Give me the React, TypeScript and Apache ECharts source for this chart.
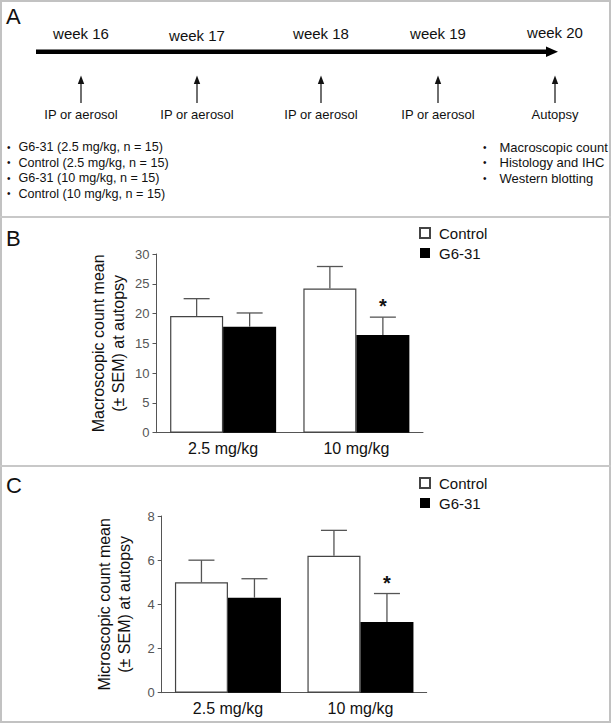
import React, { useEffect, useRef } from "react";
import * as echarts from "echarts";

const FONT = "'Liberation Sans', Arial, Helvetica, sans-serif";

// ---- Data ----
const categories = ["2.5 mg/kg", "10 mg/kg"];
const seriesNames = ["Control", "G6-31"];

// Panel B: macroscopic count (mean, upper SEM)
const macroControl = [19.6, 24.2];
const macroControlSem = [2.9, 3.7];
const macroG631 = [17.8, 16.4];
const macroG631Sem = [2.3, 3.0];
const macroSig = [false, true];
const macroAxis = { min: 0, max: 30, interval: 5 };

// Panel C: microscopic count (mean, upper SEM)
const microControl = [5.0, 6.2];
const microControlSem = [1.0, 1.15];
const microG631 = [4.3, 3.2];
const microG631Sem = [0.86, 1.29];
const microSig = [false, true];
const microAxis = { min: 0, max: 8, interval: 2 };

// Panel A: schedule texts
const weekLabels = ["week 16", "week 17", "week 18", "week 19", "week 20"];
const eventLabels = ["IP or aerosol", "IP or aerosol", "IP or aerosol", "IP or aerosol", "Autopsy"];
const groupLabels = [
  "G6-31 (2.5 mg/kg, n = 15)",
  "Control (2.5 mg/kg, n = 15)",
  "G6-31 (10 mg/kg, n = 15)",
  "Control (10 mg/kg, n = 15)",
];
const analysisLabels = ["Macroscopic count", "Histology and IHC", "Western blotting"];

// layout (positions only)
const weekX = [81, 197, 321, 438, 555];
const weekY = [33, 35, 33, 33, 32];
const BAR_W = 53;

function errorSeries(gridIdx: number, means: number[], sems: number[], side: number, sig: boolean[] | null) {
  return {
    type: "custom",
    name: "err" + gridIdx + side,
    xAxisIndex: gridIdx,
    yAxisIndex: gridIdx,
    z: 5,
    silent: true,
    data: means.map((m, i) => [i, m, sems[i], sig && sig[i] ? 1 : 0]),
    renderItem: (params: any, api: any) => {
      const ci = api.value(0);
      const m = api.value(1);
      const e = api.value(2);
      const s = api.value(3);
      const base = api.coord([ci, m]);
      const top = api.coord([ci, m + e]);
      const x = base[0] + side * (BAR_W / 2);
      const children: any[] = [
        { type: "line", shape: { x1: x, y1: base[1], x2: x, y2: top[1] }, style: { stroke: "#555", lineWidth: 1.3 } },
        { type: "line", shape: { x1: x - 13, y1: top[1], x2: x + 13, y2: top[1] }, style: { stroke: "#555", lineWidth: 1.3 } },
      ];
      if (s) {
        children.push({
          type: "text",
          x: x,
          y: top[1] - 11,
          style: { text: "*", fontSize: 20, fontWeight: "bold", fontFamily: FONT, fill: "#111", align: "center", verticalAlign: "middle" },
        });
      }
      return { type: "group", children };
    },
  };
}

function txt(x: number, y: number, text: string, size: number, align = "left", fill = "#111") {
  return {
    type: "text",
    x,
    y,
    silent: true,
    style: { text, fontSize: size, fontFamily: FONT, fill, align, verticalAlign: "middle" },
  };
}

export default function App() {
  const ref = useRef<HTMLDivElement>(null);
  useEffect(() => {
    if (!ref.current) return;
    const chart = echarts.init(ref.current, null, { renderer: "svg" });

    const graphic: any[] = [];
    // frame & separators
    graphic.push({ type: "rect", silent: true, z: -10, shape: { x: 1, y: 1, width: 609, height: 721 }, style: { fill: "#fff", stroke: "#c2c2c2", lineWidth: 2 } });
    graphic.push({ type: "line", silent: true, shape: { x1: 0, y1: 217, x2: 611, y2: 217 }, style: { stroke: "#c8c8c8", lineWidth: 2 } });
    graphic.push({ type: "line", silent: true, shape: { x1: 0, y1: 466, x2: 611, y2: 466 }, style: { stroke: "#c8c8c8", lineWidth: 2 } });
    // panel letters
    graphic.push(txt(6, 16, "A", 22));
    graphic.push(txt(6, 238, "B", 22));
    graphic.push(txt(6, 485, "C", 22));
    // timeline
    graphic.push({ type: "line", silent: true, shape: { x1: 36, y1: 51.7, x2: 549, y2: 51.7 }, style: { stroke: "#000", lineWidth: 4.5 } });
    graphic.push({ type: "polygon", silent: true, shape: { points: [[546, 46.5], [558, 51.7], [546, 57]] }, style: { fill: "#000" } });
    weekLabels.forEach((w, i) => {
      graphic.push(txt(weekX[i], weekY[i], w, 15, "center"));
      const x = weekX[i];
      graphic.push({ type: "line", silent: true, shape: { x1: x, y1: 82, x2: x, y2: 103 }, style: { stroke: "#222", lineWidth: 1.3 } });
      graphic.push({ type: "polygon", silent: true, shape: { points: [[x, 75.5], [x - 3.2, 84], [x + 3.2, 84]] }, style: { fill: "#111" } });
      graphic.push(txt(x, 114, eventLabels[i], 13, "center"));
    });
    groupLabels.forEach((g, i) => {
      const y = 147 + i * 15.5;
      graphic.push(txt(7, y, "•", 10));
      graphic.push(txt(18.5, y, g, 12.6));
    });
    analysisLabels.forEach((g, i) => {
      const y = 147 + i * 15.5;
      graphic.push(txt(483, y, "•", 10));
      graphic.push(txt(499.5, y, g, 13));
    });

    const axisLineStyle = { color: "#555", width: 1 };
    const mkX = (gi: number) => ({
      type: "category",
      gridIndex: gi,
      data: categories,
      axisLine: { show: true, lineStyle: axisLineStyle },
      axisTick: { show: false },
      axisLabel: { fontSize: 16, color: "#111", fontFamily: FONT, margin: 8 },
      splitLine: { show: false },
    });
    const mkY = (gi: number, ax: any, name: string, gap: number) => ({
      type: "value",
      gridIndex: gi,
      min: ax.min,
      max: ax.max,
      interval: ax.interval,
      name,
      nameLocation: "middle",
      nameRotate: 90,
      nameGap: gap,
      nameTextStyle: { fontSize: 16, color: "#111", fontFamily: FONT, lineHeight: 20 },
      axisLine: { show: true, lineStyle: axisLineStyle },
      axisTick: { show: true, length: 4, lineStyle: axisLineStyle },
      axisLabel: { fontSize: 13, color: "#555", fontFamily: FONT, margin: 7 },
      splitLine: { show: false },
    });

    const controlStyle = { color: "#fff", borderColor: "#444", borderWidth: 1.2 };
    const g6Style = { color: "#000", borderColor: "#000", borderWidth: 0 };

    const legendCommon = {
      data: seriesNames,
      orient: "vertical",
      left: 419,
      itemWidth: 10,
      itemHeight: 10,
      itemGap: 5,
      padding: 0,
      icon: "rect",
      selectedMode: false,
      textStyle: { fontSize: 15, color: "#111", fontFamily: FONT, padding: [0, 0, 0, 4] },
    };

    chart.setOption({
      animation: false,
      backgroundColor: "#fff",
      textStyle: { fontFamily: FONT },
      graphic,
      legend: [
        { ...legendCommon, top: 225.5 },
        { ...legendCommon, top: 475.5 },
      ],
      grid: [
        { left: 156.5, top: 254, width: 266.5, height: 178.7 },
        { left: 161.7, top: 516, width: 265, height: 176.7 },
      ],
      xAxis: [mkX(0), mkX(1)],
      yAxis: [
        mkY(0, macroAxis, "Macroscopic count mean\n(± SEM) at autopsy", 28),
        mkY(1, microAxis, "Microscopic count mean\n(± SEM) at autopsy", 27),
      ],
      series: [
        { type: "bar", name: seriesNames[0], xAxisIndex: 0, yAxisIndex: 0, data: macroControl, barWidth: BAR_W, barGap: "0%", itemStyle: controlStyle },
        { type: "bar", name: seriesNames[1], xAxisIndex: 0, yAxisIndex: 0, data: macroG631, barWidth: BAR_W, barGap: "0%", itemStyle: g6Style },
        { type: "bar", name: seriesNames[0], xAxisIndex: 1, yAxisIndex: 1, data: microControl, barWidth: BAR_W, barGap: "0%", itemStyle: controlStyle },
        { type: "bar", name: seriesNames[1], xAxisIndex: 1, yAxisIndex: 1, data: microG631, barWidth: BAR_W, barGap: "0%", itemStyle: g6Style },
        errorSeries(0, macroControl, macroControlSem, -1, null),
        errorSeries(0, macroG631, macroG631Sem, 1, macroSig),
        errorSeries(1, microControl, microControlSem, -1, null),
        errorSeries(1, microG631, microG631Sem, 1, microSig),
      ],
    });
    return () => chart.dispose();
  }, []);
  return <div ref={ref} style={{ position: "fixed", left: 0, top: 0, width: 611, height: 723 }} />;
}
